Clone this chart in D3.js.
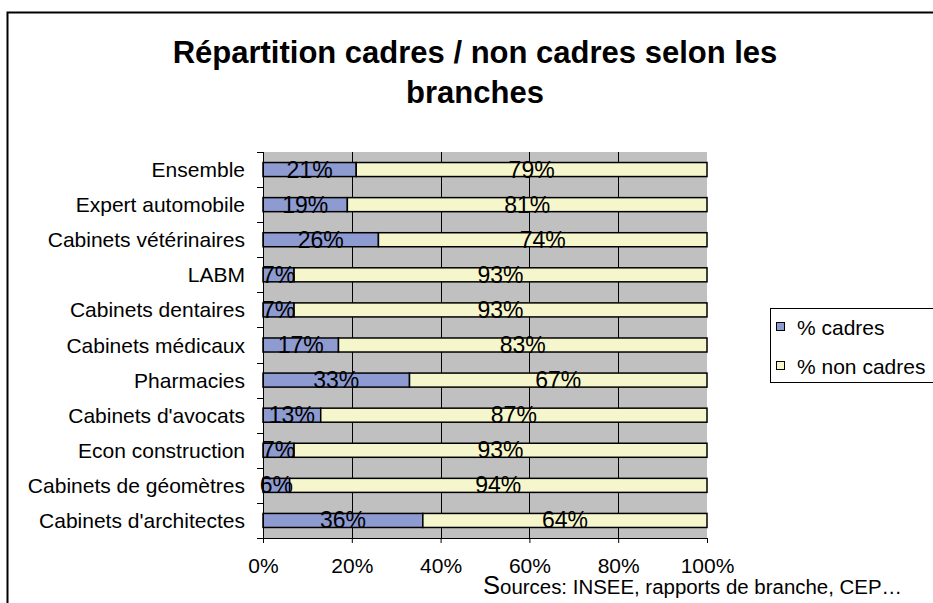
<!DOCTYPE html>
<html>
<head>
<meta charset="utf-8">
<script src="https://cdn.jsdelivr.net/npm/d3@7"></script>
<style>
  html, body { margin: 0; padding: 0; background: #ffffff; }
  svg { display: block; font-family: "Liberation Sans", Arial, sans-serif; }
</style>
</head>
<body>
<svg id="chart" width="933" height="603"></svg>
<script>
const categories = [
  "Ensemble",
  "Expert automobile",
  "Cabinets vétérinaires",
  "LABM",
  "Cabinets dentaires",
  "Cabinets médicaux",
  "Pharmacies",
  "Cabinets d'avocats",
  "Econ construction",
  "Cabinets de géomètres",
  "Cabinets d'architectes"
];
const cadres     = [21, 19, 26, 7, 7, 17, 33, 13, 7, 6, 36];
const nonCadres  = [79, 81, 74, 93, 93, 83, 67, 87, 93, 94, 64];
const seriesNames = ["% cadres", "% non cadres"];
const xTicks = [0, 20, 40, 60, 80, 100];
const titleLines = ["Répartition cadres / non cadres selon les", "branches"];
const sourceText = ["S", "ources: INSEE, rapports de branche, CEP…"];

const colors = ["#8e9bd0", "#f6f6cd"];

const svg = d3.select("#chart");

// outer frame
svg.append("rect")
  .attr("x", 7.5).attr("y", 12.5)
  .attr("width", 1000).attr("height", 700)
  .attr("fill", "#ffffff").attr("stroke", "#000").attr("stroke-width", 2);

// title
svg.append("g").selectAll("text").data(titleLines).join("text")
  .attr("x", 475).attr("y", (d, i) => 63 + i * 40)
  .attr("text-anchor", "middle")
  .attr("font-size", 31).attr("font-weight", "bold")
  .text(d => d);

const plot = { left: 263, right: 707, top: 152, bottom: 538 };

const x = d3.scaleLinear().domain([0, 100]).range([plot.left, plot.right]);
const y = d3.scaleBand().domain(categories).range([plot.top, plot.bottom])
  .paddingInner(0.6).paddingOuter(0.3);

// plot background
svg.append("rect")
  .attr("x", plot.left).attr("y", plot.top)
  .attr("width", plot.right - plot.left).attr("height", plot.bottom - plot.top)
  .attr("fill", "#c0c0c0");

// vertical gridlines
svg.append("g").selectAll("line").data(xTicks.filter(t => t > 0 && t < 100)).join("line")
  .attr("x1", d => Math.round(x(d)) + 0.5).attr("x2", d => Math.round(x(d)) + 0.5)
  .attr("y1", plot.top).attr("y2", plot.bottom)
  .attr("stroke", "#000").attr("stroke-width", 1);

// stacked bars
const rows = categories.map((c, i) => ({ cat: c, vals: [cadres[i], nonCadres[i]] }));
const barG = svg.append("g");
rows.forEach(r => {
  let acc = 0;
  r.vals.forEach((v, k) => {
    barG.append("rect")
      .attr("x", x(acc)).attr("y", y(r.cat))
      .attr("width", x(acc + v) - x(acc)).attr("height", y.bandwidth())
      .attr("fill", colors[k]).attr("stroke", "#000").attr("stroke-width", 1.5);
    acc += v;
  });
});

// data labels
const lblG = svg.append("g");
rows.forEach(r => {
  let acc = 0;
  r.vals.forEach((v, k) => {
    lblG.append("text")
      .attr("x", x(acc + v / 2))
      .attr("y", y(r.cat) + y.bandwidth() / 2 + 8)
      .attr("text-anchor", "middle")
      .attr("font-size", 23).attr("fill", "#000")
      .text(v + "%");
    acc += v;
  });
});

// left axis line and boundary ticks
const boundaries = d3.range(categories.length + 1).map(i => plot.top + i * (plot.bottom - plot.top) / categories.length);
const leftAx = svg.append("g");
leftAx.append("line")
  .attr("x1", plot.left + 0.5).attr("x2", plot.left + 0.5)
  .attr("y1", plot.top).attr("y2", plot.bottom)
  .attr("stroke", "#000");
leftAx.selectAll("line.tk").data(boundaries).join("line").attr("class", "tk")
  .attr("x1", plot.left - 6).attr("x2", plot.left)
  .attr("y1", d => Math.round(d) + 0.5).attr("y2", d => Math.round(d) + 0.5)
  .attr("stroke", "#000");
leftAx.selectAll("text").data(categories).join("text")
  .attr("x", 245).attr("y", d => y(d) + y.bandwidth() / 2 + 7.5)
  .attr("text-anchor", "end").attr("font-size", 21)
  .text(d => d);

// bottom axis
const bottomAxis = d3.axisBottom(x).tickValues(xTicks).tickSize(5).tickSizeOuter(0)
  .tickFormat(d => d + "%");
const bg = svg.append("g").attr("transform", `translate(0,${plot.bottom})`).call(bottomAxis);
bg.select(".domain").attr("stroke", "#000");
bg.selectAll(".tick line").attr("stroke", "#000");
bg.selectAll(".tick text")
  .attr("dy", null).attr("y", 35)
  .attr("font-size", 21).attr("font-family", "Liberation Sans, Arial, sans-serif").attr("fill", "#000");

// legend
const lg = svg.append("g");
lg.append("rect")
  .attr("x", 770.5).attr("y", 308.5).attr("width", 300).attr("height", 74)
  .attr("fill", "#fff").attr("stroke", "#000").attr("stroke-width", 1);
seriesNames.forEach((s, i) => {
  const cy = 327 + i * 39;
  lg.append("rect")
    .attr("x", 776.5).attr("y", cy - 4.5).attr("width", 8).attr("height", 8)
    .attr("fill", colors[i]).attr("stroke", "#000").attr("stroke-width", 1);
  lg.append("text")
    .attr("x", 797).attr("y", cy + 7.5)
    .attr("font-size", 21).text(s);
});

// source note
const src = svg.append("text").attr("x", 483).attr("y", 594).attr("font-size", 20);
src.append("tspan").attr("font-size", 25).text(sourceText[0]);
src.append("tspan").text(sourceText[1]);
const w = src.node().getComputedTextLength();
if (w > 0) src.attr("textLength", 419).attr("lengthAdjust", "spacingAndGlyphs");
</script>
</body>
</html>
